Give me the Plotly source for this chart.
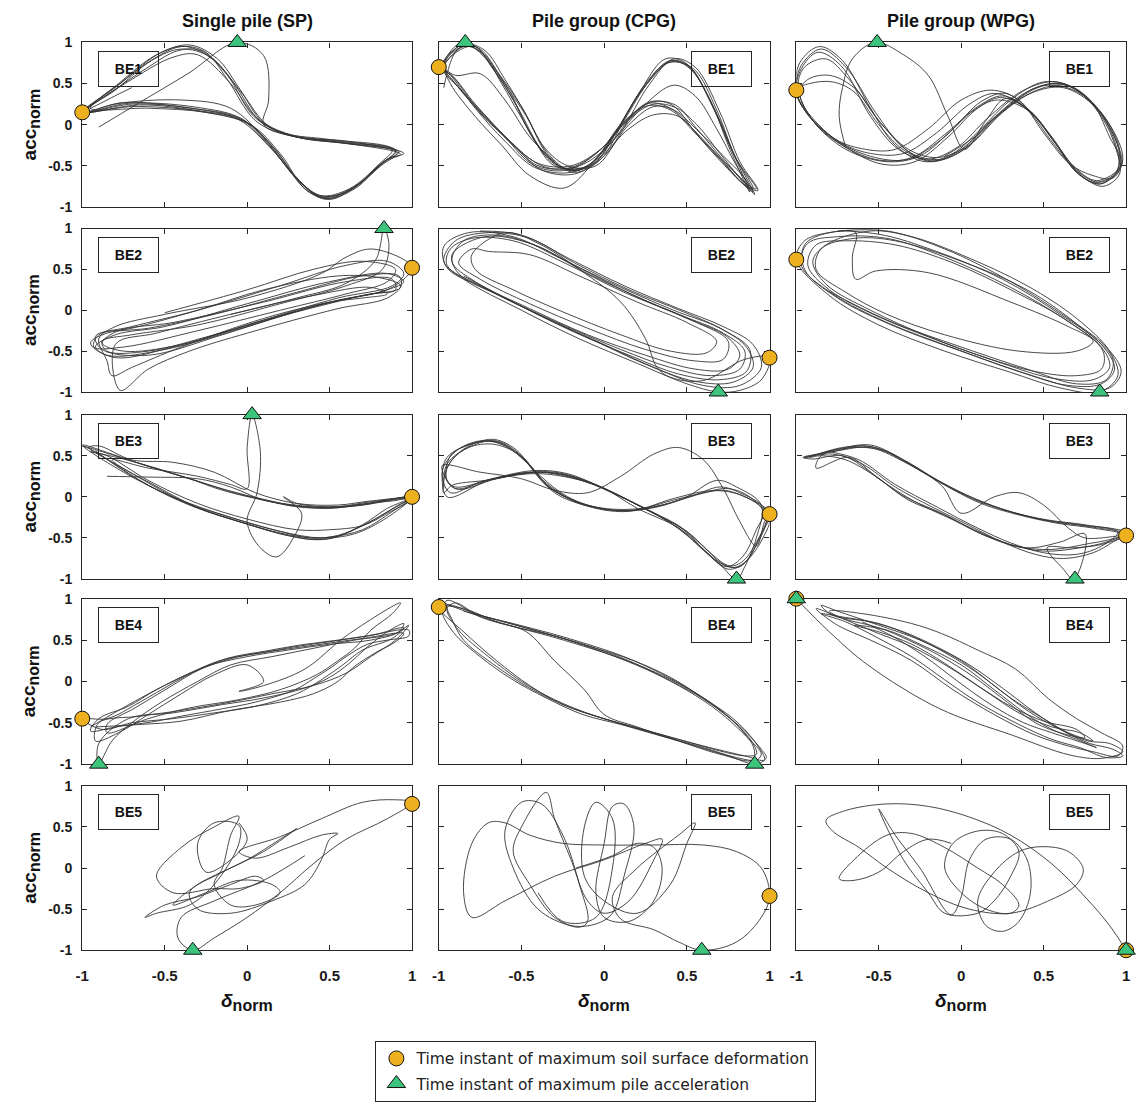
import plotly.graph_objects as go

# Normalised pile-head response: x = delta_norm, y = acc_norm
# Each list is one continuous trajectory of (delta_norm, acc_norm) pairs.

SP_BE1 = [(-0.9, -0.03), (-0.66, 0.26), (-0.36, 0.62), (-0.06, 1.0), (0.1, 0.84), (0.13, 0.3), (0.1, 0.0), (0.3, -0.15), (0.6, -0.23), (0.92, -0.33),
          (0.82, -0.46), (0.65, -0.76), (0.47, -0.9), (0.33, -0.72), (0.15, -0.3), (-0.05, 0.06), (-0.3, 0.19), (-0.7, 0.25), (-1.0, 0.15),
          (-0.8, 0.45), (-0.6, 0.76), (-0.4, 0.95), (-0.25, 0.88), (-0.12, 0.55), (0.05, 0.05), (0.25, -0.13), (0.55, -0.21), (0.9, -0.32),
          (0.8, -0.5), (0.62, -0.8), (0.45, -0.88), (0.3, -0.65), (0.13, -0.25), (-0.05, 0.08), (-0.35, 0.2), (-0.75, 0.27), (-0.97, 0.17),
          (-0.78, 0.5), (-0.55, 0.85), (-0.35, 0.97), (-0.18, 0.8), (-0.05, 0.45), (0.1, 0.02), (0.3, -0.15), (0.6, -0.2), (0.95, -0.35),
          (0.85, -0.42), (0.68, -0.72), (0.5, -0.91), (0.35, -0.78), (0.17, -0.3), (-0.02, 0.05), (-0.3, 0.17), (-0.7, 0.22), (-0.98, 0.16),
          (-0.82, 0.4), (-0.6, 0.7), (-0.42, 0.9), (-0.28, 0.9), (-0.12, 0.6), (0.04, 0.1), (0.22, -0.1), (0.5, -0.18), (0.88, -0.3),
          (0.8, -0.48), (0.62, -0.78), (0.44, -0.86), (0.28, -0.6), (0.12, -0.2), (-0.1, 0.2), (-0.4, 0.3), (-0.8, 0.25), (-1.0, 0.14),
          (-0.76, 0.52), (-0.52, 0.88), (-0.37, 0.95), (-0.2, 0.78), (-0.03, 0.38), (0.12, 0.0), (0.32, -0.16), (0.65, -0.24), (0.93, -0.36),
          (0.83, -0.45), (0.66, -0.77), (0.48, -0.9), (0.34, -0.74), (0.16, -0.28), (0.0, 0.02), (-0.25, 0.15), (-0.6, 0.2), (-0.95, 0.2),
          (-0.8, 0.42), (-0.58, 0.78), (-0.4, 0.92), (-0.22, 0.82), (-0.08, 0.5), (0.08, 0.04), (0.28, -0.14), (0.58, -0.22), (0.91, -0.34),
          (0.81, -0.5), (0.63, -0.79), (0.46, -0.87), (0.31, -0.68), (0.14, -0.26), (-0.03, 0.07), (-0.3, 0.21), (-0.72, 0.26), (-0.99, 0.15),
          (-0.7, 0.55), (-0.45, 0.82), (-0.3, 0.85), (-0.1, 0.5), (0.06, 0.08), (0.26, -0.12), (0.55, -0.2), (0.9, -0.31),
          (0.84, -0.44), (0.66, -0.74), (0.49, -0.88), (0.36, -0.8), (0.2, -0.35), (0.02, 0.0), (-0.28, 0.16), (-0.65, 0.24), (-0.98, 0.15),
          (-0.85, 0.3), (-0.7, 0.45)]

CPG_BE1 = [(-0.97, 0.45), (-0.95, 0.62), (-0.9, 0.88),
           (-0.83, 0.98), (-0.72, 0.9), (-0.6, 0.55), (-0.48, 0.15), (-0.34, -0.35), (-0.2, -0.56), (-0.05, -0.45), (0.1, 0.0), (0.25, 0.5), (0.4, 0.78), (0.52, 0.7), (0.66, 0.2), (0.78, -0.35), (0.9, -0.78),
           (0.84, -0.72), (0.72, -0.45), (0.55, -0.08), (0.4, 0.2), (0.27, 0.26), (0.12, 0.02), (-0.02, -0.3), (-0.2, -0.52), (-0.4, -0.5), (-0.58, -0.18), (-0.75, 0.18), (-0.9, 0.5), (-0.97, 0.7),
           (-0.88, 0.95), (-0.78, 0.95), (-0.65, 0.62), (-0.52, 0.2), (-0.38, -0.3), (-0.25, -0.52), (-0.1, -0.5), (0.05, -0.15), (0.22, 0.4), (0.38, 0.75), (0.5, 0.72), (0.64, 0.3), (0.76, -0.3), (0.88, -0.82),
           (0.86, -0.68), (0.74, -0.42), (0.58, -0.1), (0.42, 0.18), (0.3, 0.22), (0.15, 0.0), (0.0, -0.38), (-0.18, -0.6), (-0.38, -0.55), (-0.56, -0.22), (-0.74, 0.12), (-0.9, 0.55), (-0.98, 0.72),
           (-0.86, 0.97), (-0.75, 0.92), (-0.63, 0.6), (-0.5, 0.22), (-0.36, -0.28), (-0.22, -0.5), (-0.05, -0.5), (0.1, -0.1), (0.27, 0.48), (0.42, 0.8), (0.55, 0.7), (0.7, 0.15), (0.82, -0.45), (0.93, -0.8),
           (0.86, -0.75), (0.73, -0.5), (0.56, -0.12), (0.41, 0.24), (0.28, 0.28), (0.13, 0.05), (-0.03, -0.32), (-0.22, -0.55), (-0.42, -0.5), (-0.6, -0.15), (-0.78, 0.25), (-0.92, 0.6), (-0.98, 0.68),
           (-0.88, 0.9), (-0.78, 0.95), (-0.68, 0.7), (-0.55, 0.3), (-0.42, -0.2), (-0.3, -0.5), (-0.12, -0.52), (0.05, -0.2), (0.25, 0.25), (0.42, 0.48), (0.55, 0.35), (0.68, -0.05), (0.8, -0.5), (0.9, -0.82),
           (0.83, -0.7), (0.7, -0.42), (0.55, -0.1), (0.4, 0.18), (0.26, 0.23), (0.1, 0.0), (-0.05, -0.42), (-0.24, -0.77), (-0.45, -0.62), (-0.62, -0.25), (-0.78, 0.1), (-0.93, 0.5), (-0.97, 0.75),
           (-0.85, 0.95), (-0.74, 0.88), (-0.61, 0.52), (-0.47, 0.1), (-0.33, -0.4), (-0.18, -0.58), (-0.02, -0.42), (0.12, 0.05), (0.28, 0.55), (0.41, 0.78), (0.53, 0.66), (0.67, 0.18), (0.79, -0.38), (0.91, -0.85),
           (0.85, -0.7), (0.73, -0.45), (0.56, -0.05), (0.43, 0.24), (0.28, 0.27), (0.14, 0.05), (-0.01, -0.28), (-0.2, -0.5), (-0.4, -0.47), (-0.57, -0.2), (-0.75, 0.15), (-0.9, 0.5), (-0.97, 0.72),
           (-0.88, 0.98), (-0.8, 0.95), (-0.68, 0.72), (-0.57, 0.4), (-0.45, -0.1), (-0.3, -0.48), (-0.15, -0.55), (0.0, -0.3), (0.2, 0.35), (0.37, 0.8), (0.5, 0.74), (0.65, 0.25), (0.77, -0.3), (0.87, -0.78),
           (0.82, -0.65), (0.7, -0.35), (0.56, 0.0), (0.44, 0.2), (0.3, 0.25), (0.16, 0.08), (0.03, -0.25), (-0.15, -0.5), (-0.35, -0.52), (-0.55, -0.25), (-0.72, 0.1), (-0.88, 0.45), (-0.97, 0.68),
           (-0.84, 0.96), (-0.73, 0.85), (-0.62, 0.5), (-0.49, 0.05), (-0.35, -0.38), (-0.21, -0.55), (-0.06, -0.47), (0.08, -0.05), (0.26, 0.5), (0.4, 0.76), (0.54, 0.68), (0.68, 0.18), (0.8, -0.42), (0.92, -0.78),
           (0.86, -0.72), (0.75, -0.5), (0.6, -0.2), (0.45, 0.1), (0.3, 0.12), (0.15, -0.05), (-0.03, -0.4), (-0.2, -0.58), (-0.42, -0.52), (-0.6, -0.2), (-0.78, 0.2), (-0.92, 0.58), (-0.98, 0.7),
           (-0.9, 0.6), (-0.75, 0.62), (-0.6, 0.3), (-0.45, -0.15), (-0.3, -0.45)]

WPG_BE1 = [(-0.7, -0.28), (-0.74, 0.1), (-0.72, 0.45), (-0.66, 0.8), (-0.52, 1.0), (-0.35, 0.85), (-0.2, 0.6), (-0.08, 0.1), (0.02, -0.3), (0.15, 0.05), (0.27, 0.32),
           (0.42, 0.15), (0.57, -0.22), (0.7, -0.58), (0.84, -0.72), (0.95, -0.55), (0.93, -0.2), (0.8, 0.25), (0.6, 0.5), (0.4, 0.4), (0.18, 0.05), (0.0, -0.3), (-0.18, -0.45), (-0.35, -0.28), (-0.52, 0.15), (-0.7, 0.7), (-0.85, 0.92), (-0.97, 0.72), (-1.0, 0.42), (-0.93, 0.12), (-0.72, -0.25), (-0.5, -0.43), (-0.3, -0.4), (-0.1, -0.12), (0.1, 0.22), (0.25, 0.35),
           (0.4, 0.2), (0.55, -0.15), (0.68, -0.5), (0.82, -0.68), (0.97, -0.5), (0.95, -0.25), (0.82, 0.2), (0.62, 0.45), (0.42, 0.38), (0.2, 0.08), (0.02, -0.28), (-0.15, -0.4), (-0.32, -0.3), (-0.5, 0.05), (-0.68, 0.55), (-0.82, 0.8), (-0.95, 0.7), (-0.99, 0.45), (-0.9, 0.05), (-0.7, -0.3), (-0.45, -0.45), (-0.25, -0.38), (-0.05, -0.05), (0.12, 0.28), (0.27, 0.38),
           (0.44, 0.12), (0.6, -0.3), (0.73, -0.62), (0.86, -0.75), (0.96, -0.6), (0.94, -0.3), (0.85, 0.1), (0.68, 0.45), (0.5, 0.52), (0.3, 0.3), (0.12, -0.05), (-0.05, -0.35), (-0.22, -0.45), (-0.4, -0.25), (-0.55, 0.2), (-0.72, 0.78), (-0.86, 0.95), (-0.98, 0.75), (-1.0, 0.4), (-0.95, 0.2), (-0.75, -0.2), (-0.52, -0.4), (-0.32, -0.42), (-0.12, -0.18), (0.08, 0.18), (0.22, 0.3),
           (0.4, 0.18), (0.56, -0.2), (0.69, -0.55), (0.8, -0.7), (0.93, -0.6), (0.96, -0.35), (0.84, 0.15), (0.64, 0.48), (0.45, 0.45), (0.25, 0.15), (0.05, -0.25), (-0.12, -0.42), (-0.3, -0.35), (-0.48, 0.0), (-0.65, 0.45), (-0.8, 0.6), (-0.93, 0.55), (-0.98, 0.4), (-0.88, 0.0), (-0.68, -0.3), (-0.48, -0.48), (-0.28, -0.45), (-0.08, -0.15), (0.1, 0.2), (0.24, 0.33),
           (0.42, 0.16), (0.58, -0.25), (0.71, -0.6), (0.85, -0.72), (0.97, -0.48), (0.9, -0.15), (0.78, 0.3), (0.58, 0.52), (0.38, 0.42), (0.16, 0.08), (-0.02, -0.27), (-0.2, -0.42), (-0.38, -0.3), (-0.55, 0.1), (-0.73, 0.72), (-0.87, 0.88), (-0.97, 0.68), (-1.0, 0.4),
           (-0.92, 0.1), (-0.73, -0.22), (-0.55, -0.35), (-0.35, -0.35), (-0.15, -0.1), (0.05, 0.25), (0.2, 0.38), (0.38, 0.22), (0.54, -0.18), (0.68, -0.52), (0.83, -0.7), (0.95, -0.58), (0.96, -0.3), (0.86, 0.12), (0.66, 0.47), (0.46, 0.42), (0.22, 0.1), (0.02, -0.3), (-0.16, -0.44), (-0.34, -0.32), (-0.5, 0.0), (-0.65, 0.4), (-0.78, 0.52), (-0.92, 0.5), (-1.0, 0.42),
           (-0.94, 0.15), (-0.76, -0.18), (-0.58, -0.3), (-0.4, -0.3), (-0.2, -0.05), (0.0, 0.3), (0.18, 0.42), (0.35, 0.3), (0.5, -0.1), (0.66, -0.48), (0.8, -0.62), (0.92, -0.65), (0.98, -0.42), (0.9, 0.0), (0.72, 0.38), (0.52, 0.48), (0.3, 0.25), (0.08, -0.15), (-0.1, -0.38)]

SP_BE2 = [(-0.1, -0.05), (0.3, 0.15), (0.6, 0.33), (0.78, 0.62), (0.83, 1.0), (0.86, 0.8), (0.82, 0.5), (0.6, 0.3), (0.2, 0.08), (-0.3, -0.18), (-0.7, -0.3), (-0.88, -0.38), (-0.85, -0.5), (-0.6, -0.5), (-0.2, -0.3), (0.3, -0.02), (0.7, 0.18), (0.93, 0.28), (0.92, 0.42), (0.7, 0.42), (0.3, 0.22), (-0.2, -0.05), (-0.6, -0.22), (-0.85, -0.28), (-0.95, -0.4), (-0.85, -0.55), (-0.5, -0.48), (0.0, -0.2), (0.5, 0.1), (0.8, 0.22), (0.95, 0.35), (0.85, 0.45), (0.5, 0.35), (0.0, 0.08), (-0.5, -0.2), (-0.8, -0.3), (-0.92, -0.45), (-0.8, -0.58), (-0.45, -0.45), (0.05, -0.15), (0.55, 0.15), (0.88, 0.3), (0.95, 0.45), (0.85, 0.6), (0.6, 0.55), (0.2, 0.3), (-0.3, 0.0), (-0.7, -0.2), (-0.92, -0.32), (-0.88, -0.48), (-0.6, -0.55), (-0.15, -0.3), (0.35, 0.02), (0.75, 0.2), (0.9, 0.25), (0.88, 0.38), (0.6, 0.35), (0.1, 0.1), (-0.45, -0.15), (-0.78, -0.25), (-0.88, -0.4), (-0.75, -0.5), (-0.4, -0.42), (0.1, -0.12), (0.55, 0.12), (0.88, 0.28), (1.0, 0.52), (0.95, 0.62), (0.75, 0.75), (0.6, 0.65), (0.45, 0.45), (0.0, 0.15), (-0.5, -0.05), (-0.8, -0.2), (-0.9, -0.35), (-0.85, -0.62), (-0.82, -0.8), (-0.7, -0.7), (-0.4, -0.45), (0.1, -0.1), (0.5, 0.1), (0.7, 0.15), (0.85, 0.2), (0.75, 0.28), (0.4, 0.18), (-0.1, -0.05), (-0.55, -0.28), (-0.8, -0.42), (-0.77, -0.98), (-0.6, -0.72), (-0.35, -0.5), (0.0, -0.28), (0.55, 0.02), (0.85, 0.15), (0.93, 0.3), (0.8, 0.4), (0.55, 0.42), (0.1, 0.25), (-0.3, 0.0), (-0.7, -0.22), (-0.9, -0.3), (-0.93, -0.45), (-0.75, -0.45), (-0.3, -0.25), (0.2, 0.0), (0.6, 0.2), (0.85, 0.35), (0.9, 0.5), (0.7, 0.6), (0.4, 0.5), (0.0, 0.25), (-0.5, -0.03)]

CPG_BE2 = [(-0.75, 0.97), (-0.5, 0.92), (-0.2, 0.62), (0.12, 0.3), (0.45, 0.02), (0.72, -0.2), (0.9, -0.42), (0.95, -0.7), (0.82, -0.92), (0.6, -0.92), (0.3, -0.7), (0.0, -0.42), (-0.35, -0.1), (-0.7, 0.25), (-0.95, 0.52), (-0.97, 0.78),
           (-0.82, 0.95), (-0.55, 0.9), (-0.25, 0.62), (0.1, 0.28), (0.42, 0.0), (0.7, -0.22), (0.86, -0.45), (0.9, -0.7), (0.78, -0.88), (0.55, -0.87), (0.25, -0.66), (-0.05, -0.38), (-0.4, -0.05), (-0.75, 0.3), (-0.95, 0.55), (-0.93, 0.75),
           (-0.8, 0.88), (-0.55, 0.85), (-0.22, 0.56), (0.12, 0.22), (0.45, -0.05), (0.72, -0.28), (0.85, -0.5), (0.82, -0.72), (0.65, -0.8), (0.4, -0.7), (0.1, -0.48), (-0.25, -0.18), (-0.6, 0.15), (-0.88, 0.45), (-0.92, 0.68),
           (-0.72, 0.9), (-0.45, 0.82), (-0.15, 0.52), (0.18, 0.18), (0.5, -0.1), (0.74, -0.32), (0.82, -0.55), (0.75, -0.72), (0.55, -0.72), (0.25, -0.55), (-0.1, -0.3), (-0.45, 0.02), (-0.78, 0.35), (-0.92, 0.6), (-0.85, 0.85),
           (-0.65, 0.92), (-0.4, 0.78), (-0.1, 0.45), (0.25, 0.12), (0.55, -0.14), (0.75, -0.38), (0.72, -0.6), (0.55, -0.62), (0.25, -0.48), (-0.1, -0.22), (-0.45, 0.08), (-0.75, 0.38), (-0.88, 0.58), (-0.8, 0.75),
           (-0.7, 0.72), (-0.45, 0.68), (-0.15, 0.42), (0.2, 0.1), (0.5, -0.15), (0.68, -0.38), (0.62, -0.52), (0.4, -0.5), (0.1, -0.3), (-0.25, -0.02), (-0.55, 0.25), (-0.78, 0.5), (-0.8, 0.68),
           (-0.6, 0.95), (-0.4, 0.82), (-0.15, 0.5), (0.1, 0.1), (0.25, -0.35), (0.32, -0.7), (0.4, -0.82), (0.6, -0.86), (0.85, -0.6), (1.0, -0.58), (0.95, -0.85), (0.82, -0.98), (0.69, -1.0), (0.5, -0.9), (0.2, -0.65), (-0.15, -0.35), (-0.5, 0.0), (-0.85, 0.38), (-0.97, 0.6), (-0.9, 0.85), (-0.7, 0.95),
           (-0.45, 0.88), (-0.18, 0.58), (0.15, 0.25), (0.48, -0.02), (0.73, -0.25), (0.88, -0.48), (0.86, -0.75), (0.7, -0.85), (0.45, -0.78), (0.15, -0.55), (-0.2, -0.25), (-0.55, 0.1), (-0.85, 0.42)]

WPG_BE2 = [(-0.75, 0.97), (-0.45, 0.97), (-0.1, 0.75), (0.3, 0.35), (0.65, -0.1), (0.88, -0.45), (0.97, -0.75), (0.9, -0.95), (0.7, -0.95), (0.4, -0.78), (0.0, -0.5), (-0.4, -0.2), (-0.75, 0.15), (-0.95, 0.5), (-0.95, 0.8),
           (-0.8, 0.95), (-0.5, 0.93), (-0.15, 0.72), (0.25, 0.38), (0.6, -0.05), (0.85, -0.42), (0.93, -0.72), (0.85, -0.9), (0.65, -0.92), (0.35, -0.75), (-0.05, -0.46), (-0.45, -0.15), (-0.78, 0.2), (-0.97, 0.55), (-0.93, 0.82),
           (-0.75, 0.9), (-0.45, 0.88), (-0.1, 0.65), (0.3, 0.28), (0.62, -0.1), (0.85, -0.45), (0.9, -0.7), (0.8, -0.85), (0.55, -0.83), (0.25, -0.65), (-0.1, -0.4), (-0.5, -0.08), (-0.8, 0.25), (-0.93, 0.55), (-0.88, 0.8),
           (-0.7, 0.85), (-0.4, 0.8), (-0.05, 0.58), (0.35, 0.2), (0.66, -0.15), (0.86, -0.5), (0.85, -0.72), (0.7, -0.8), (0.45, -0.75), (0.15, -0.58), (-0.2, -0.32), (-0.55, 0.0), (-0.82, 0.32), (-0.9, 0.6), (-0.82, 0.8),
           (-0.55, 0.97), (-0.3, 0.9), (0.0, 0.68), (0.4, 0.3), (0.7, -0.1), (0.9, -0.5), (0.95, -0.8), (0.84, -1.0), (0.6, -0.95), (0.3, -0.76), (-0.1, -0.5), (-0.5, -0.18), (-0.8, 0.18), (-1.0, 0.62), (-0.95, 0.85), (-0.8, 0.95),
           (-0.64, 0.95), (-0.66, 0.65), (-0.64, 0.38), (-0.52, 0.48), (-0.2, 0.46), (0.3, 0.1), (0.65, -0.2), (0.8, -0.38), (0.7, -0.5), (0.35, -0.5), (-0.1, -0.3), (-0.45, -0.05), (-0.7, 0.22), (-0.88, 0.5), (-0.85, 0.75), (-0.65, 0.88),
           (-0.4, 0.85), (0.0, 0.6), (0.4, 0.25), (0.72, -0.2), (0.92, -0.6), (0.88, -0.85), (0.7, -0.9), (0.4, -0.72), (0.0, -0.45), (-0.45, -0.12), (-0.82, 0.25)]

SP_BE3 = [(-0.85, 0.25), (-0.6, 0.24), (-0.3, 0.22), (-0.1, 0.12),
          (0.1, -0.04), (0.29, -0.1), (0.5, -0.13), (0.7, -0.1), (0.85, -0.04), (1.0, 0.0), (0.9, -0.12), (0.73, -0.32), (0.55, -0.48), (0.42, -0.52), (0.25, -0.47), (0.0, -0.33), (-0.3, -0.13), (-0.58, 0.16), (-0.8, 0.4), (-0.95, 0.58),
          (-1.0, 0.62), (-0.8, 0.5), (-0.58, 0.36), (-0.35, 0.22), (-0.15, 0.08), (0.12, -0.05), (0.3, -0.12), (0.52, -0.14), (0.72, -0.08), (0.88, -0.05), (0.99, -0.02), (0.88, -0.15), (0.72, -0.33), (0.55, -0.47), (0.4, -0.5), (0.2, -0.44), (-0.05, -0.3), (-0.35, -0.1), (-0.6, 0.14), (-0.82, 0.42), (-0.96, 0.6),
          (-0.9, 0.62), (-0.7, 0.45), (-0.45, 0.42), (-0.2, 0.3), (0.05, 0.05), (0.3, -0.08), (0.55, -0.1), (0.75, -0.05), (1.0, -0.02), (0.85, -0.2), (0.7, -0.35), (0.5, -0.4), (0.3, -0.4), (0.0, -0.27), (-0.3, -0.08), (-0.6, 0.2), (-0.85, 0.5),
          (-0.95, 0.55), (-0.75, 0.46), (-0.52, 0.33), (-0.3, 0.19), (-0.08, 0.05), (0.15, -0.06), (0.32, -0.12), (0.55, -0.12), (0.75, -0.06), (0.98, -0.02), (0.85, -0.14), (0.7, -0.34), (0.52, -0.5), (0.4, -0.52), (0.22, -0.46), (-0.02, -0.32), (-0.32, -0.12), (-0.6, 0.17), (-0.82, 0.45),
          (-0.6, 0.35), (-0.3, 0.25), (-0.1, 0.15), (0.0, 0.1), (0.0, 0.6), (0.03, 1.0), (0.08, 0.55), (0.06, 0.05), (0.0, -0.3), (0.08, -0.62), (0.18, -0.73), (0.28, -0.5), (0.33, -0.2), (0.22, 0.0), (0.3, -0.08),
          (0.5, -0.12), (0.7, -0.09), (0.87, -0.03), (1.0, 0.0), (0.85, -0.25), (0.65, -0.45), (0.45, -0.5), (0.2, -0.42), (-0.1, -0.25), (-0.45, 0.0), (-0.75, 0.3), (-1.0, 0.63),
          (-0.82, 0.52), (-0.6, 0.37), (-0.38, 0.24), (-0.12, 0.08), (0.1, -0.03), (0.3, -0.11), (0.5, -0.13), (0.7, -0.1), (0.88, -0.04), (1.0, -0.01), (0.88, -0.18), (0.7, -0.4), (0.5, -0.49), (0.38, -0.5), (0.2, -0.42), (-0.05, -0.28), (-0.4, -0.05), (-0.72, 0.28), (-0.92, 0.56)]

CPG_BE3 = [(-0.97, 0.1), (-0.95, 0.4), (-0.8, 0.62), (-0.65, 0.68), (-0.5, 0.5), (-0.35, 0.15), (-0.15, -0.08), (0.1, -0.18), (0.35, -0.1), (0.55, 0.02), (0.72, 0.08), (0.85, 0.0), (1.0, -0.2),
           (0.95, -0.45), (0.85, -0.8), (0.75, -0.88), (0.63, -0.7), (0.48, -0.4), (0.25, -0.15), (0.0, 0.1), (-0.25, 0.27), (-0.45, 0.3), (-0.7, 0.2), (-0.9, 0.12),
           (-0.95, 0.2), (-0.93, 0.5), (-0.78, 0.66), (-0.63, 0.66), (-0.48, 0.45), (-0.32, 0.1), (-0.1, -0.1), (0.15, -0.17), (0.4, -0.05), (0.6, 0.05), (0.75, 0.1), (0.88, 0.0), (0.98, -0.25), (0.93, -0.55), (0.82, -0.85), (0.72, -0.82), (0.6, -0.6), (0.45, -0.35), (0.22, -0.12), (-0.05, 0.15), (-0.3, 0.3), (-0.5, 0.28), (-0.75, 0.18), (-0.93, 0.05),
           (-0.98, 0.3), (-0.9, 0.55), (-0.75, 0.68), (-0.6, 0.62), (-0.45, 0.38), (-0.3, 0.05), (-0.08, -0.12), (0.18, -0.16), (0.42, -0.02), (0.62, 0.07), (0.76, 0.06), (0.9, -0.05), (1.0, -0.25), (0.96, -0.5), (0.86, -0.78), (0.78, -0.86), (0.66, -0.75), (0.5, -0.45), (0.28, -0.18), (0.02, 0.08), (-0.22, 0.28), (-0.42, 0.32), (-0.68, 0.22), (-0.9, 0.1),
           (-0.96, 0.25), (-0.92, 0.45), (-0.82, 0.6), (-0.67, 0.64), (-0.52, 0.52), (-0.37, 0.2), (-0.18, -0.05), (0.05, -0.15), (0.3, -0.12), (0.52, 0.0), (0.7, 0.12), (0.82, 0.05), (0.97, -0.15), (0.92, -0.4), (0.84, -0.72), (0.74, -0.85), (0.6, -0.65), (0.45, -0.38), (0.2, -0.14), (-0.02, 0.12), (-0.28, 0.26), (-0.46, 0.28), (-0.72, 0.2), (-0.92, 0.14),
           (-0.97, 0.05), (-0.95, 0.35), (-0.85, 0.58), (-0.68, 0.7), (-0.55, 0.6), (-0.4, 0.28), (-0.22, 0.0), (0.0, -0.15), (0.25, -0.15), (0.48, -0.02), (0.68, 0.2), (0.8, 0.12), (0.95, -0.1), (0.92, -0.5), (0.85, -0.85), (0.8, -1.0), (0.7, -0.82), (0.55, -0.55), (0.35, -0.25), (0.1, 0.0), (-0.2, 0.25), (-0.4, 0.3), (-0.65, 0.22), (-0.9, 0.1),
           (-0.98, 0.38), (-0.75, 0.3), (-0.5, 0.22), (-0.3, 0.08), (-0.1, 0.05), (0.1, 0.25), (0.3, 0.52), (0.45, 0.6), (0.6, 0.45), (0.72, 0.1), (0.82, -0.3), (0.92, -0.6), (0.97, -0.3), (1.0, -0.2),
           (0.94, -0.48), (0.84, -0.78), (0.76, -0.84), (0.64, -0.68), (0.5, -0.42), (0.26, -0.16), (0.0, 0.1), (-0.25, 0.26), (-0.44, 0.3), (-0.7, 0.2), (-0.95, 0.0), (-0.96, 0.45), (-0.82, 0.63), (-0.66, 0.67), (-0.5, 0.48), (-0.34, 0.12), (-0.12, -0.1)]

WPG_BE3 = [(-0.95, 0.47), (-0.75, 0.58), (-0.55, 0.63), (-0.35, 0.45), (-0.11, 0.16), (0.1, -0.05), (0.33, -0.2), (0.55, -0.3), (0.77, -0.36), (1.0, -0.45),
           (0.9, -0.52), (0.77, -0.57), (0.55, -0.64), (0.33, -0.6), (0.11, -0.44), (-0.1, -0.22), (-0.32, -0.04), (-0.52, 0.25), (-0.7, 0.45), (-0.85, 0.5),
           (-0.92, 0.48), (-0.72, 0.6), (-0.52, 0.6), (-0.32, 0.4), (-0.08, 0.12), (0.12, -0.08), (0.35, -0.22), (0.58, -0.32), (0.8, -0.38), (0.98, -0.46),
           (0.88, -0.55), (0.72, -0.62), (0.5, -0.66), (0.3, -0.58), (0.08, -0.4), (-0.14, -0.18), (-0.36, 0.02), (-0.55, 0.3), (-0.72, 0.5), (-0.9, 0.46),
           (-0.96, 0.48), (-0.78, 0.55), (-0.58, 0.62), (-0.38, 0.48), (-0.14, 0.2), (0.08, -0.02), (0.3, -0.18), (0.52, -0.28), (0.75, -0.34), (1.0, -0.44),
           (0.92, -0.55), (0.8, -0.68), (0.62, -0.75), (0.45, -0.7), (0.25, -0.55), (0.05, -0.35), (-0.18, -0.12), (-0.4, 0.12), (-0.6, 0.4), (-0.78, 0.52), (-0.95, 0.48),
           (-0.75, 0.56), (-0.56, 0.6), (-0.36, 0.44), (-0.12, 0.14), (0.0, -0.2), (0.2, 0.0), (0.35, 0.05), (0.5, -0.1), (0.65, -0.38), (0.75, -0.5), (1.0, -0.47),
           (0.85, -0.58), (0.68, -0.62), (0.52, -0.62), (0.62, -0.88), (0.68, -1.0), (0.74, -0.75), (0.75, -0.45), (0.6, -0.55), (0.4, -0.62), (0.18, -0.5), (-0.05, -0.28), (-0.28, -0.06), (-0.5, 0.22), (-0.68, 0.48), (-0.88, 0.35), (-0.85, 0.5),
           (-0.65, 0.6), (-0.45, 0.55), (-0.25, 0.32), (0.0, 0.05), (0.25, -0.15), (0.5, -0.28), (0.72, -0.34), (0.95, -0.43), (0.85, -0.6), (0.7, -0.7), (0.5, -0.68), (0.3, -0.56), (0.1, -0.38), (-0.15, -0.12), (-0.4, 0.15), (-0.62, 0.45), (-0.8, 0.55)]

SP_BE4 = [(-0.95, -0.55), (-0.78, -0.35), (-0.58, -0.13), (-0.35, 0.1), (-0.15, 0.26), (0.1, 0.35), (0.29, 0.42), (0.5, 0.48), (0.73, 0.55), (0.98, 0.62),
          (0.98, 0.55), (0.85, 0.5), (0.73, 0.45), (0.6, 0.3), (0.51, 0.17), (0.4, 0.03), (0.29, -0.1), (0.05, -0.25), (-0.15, -0.33), (-0.4, -0.42), (-0.58, -0.49), (-0.8, -0.55), (-0.95, -0.6),
          (-0.9, -0.45), (-0.72, -0.3), (-0.55, -0.1), (-0.32, 0.12), (-0.12, 0.28), (0.12, 0.37), (0.32, 0.44), (0.55, 0.5), (0.78, 0.57), (0.95, 0.65), (0.88, 0.52), (0.7, 0.38), (0.58, 0.2), (0.45, 0.02), (0.3, -0.15), (0.05, -0.3), (-0.2, -0.38), (-0.45, -0.45), (-0.7, -0.5), (-0.88, -0.58),
          (-1.0, -0.45), (-0.85, -0.45), (-0.65, -0.25), (-0.45, -0.02), (-0.25, 0.18), (0.0, 0.3), (0.25, 0.38), (0.5, 0.45), (0.75, 0.5), (0.92, 0.6), (0.95, 0.7), (0.85, 0.6), (0.72, 0.4), (0.62, 0.22), (0.5, 0.05), (0.35, -0.08), (0.1, -0.2), (-0.15, -0.28), (-0.45, -0.38), (-0.72, -0.45), (-0.9, -0.75), (-0.9, -1.0), (-0.82, -0.72), (-0.7, -0.5),
          (-0.52, -0.25), (-0.3, 0.0), (-0.1, 0.2), (0.15, 0.3), (0.4, 0.4), (0.65, 0.5), (0.9, 0.58), (0.98, 0.68), (0.9, 0.5), (0.75, 0.3), (0.6, 0.1), (0.4, -0.05), (0.15, -0.15), (-0.1, -0.25), (-0.4, -0.35), (-0.65, -0.42), (-0.9, -0.5), (-0.92, -0.72), (-0.78, -0.62), (-0.6, -0.4),
          (-0.4, -0.15), (-0.2, 0.08), (0.0, 0.2), (0.1, 0.0), (-0.05, -0.12), (0.1, -0.05), (0.35, 0.15), (0.6, 0.55), (0.93, 0.95), (0.88, 0.82), (0.75, 0.62), (0.65, 0.4), (0.55, 0.25), (0.42, 0.08), (0.2, -0.1), (-0.05, -0.22), (-0.35, -0.32), (-0.6, -0.45), (-0.85, -0.62),
          (-0.85, -0.52), (-0.68, -0.32), (-0.48, -0.08), (-0.28, 0.15), (-0.05, 0.3), (0.2, 0.38), (0.45, 0.45), (0.7, 0.52), (0.95, 0.58), (0.9, 0.48), (0.78, 0.35), (0.65, 0.18), (0.55, 0.0), (0.4, -0.15), (0.2, -0.25), (-0.1, -0.35), (-0.4, -0.48), (-0.65, -0.52), (-0.92, -0.55)]

CPG_BE4 = [(-0.97, 0.95), (-0.8, 0.82), (-0.56, 0.67), (-0.35, 0.56), (-0.13, 0.43), (0.1, 0.28), (0.31, 0.11), (0.5, -0.08), (0.66, -0.28), (0.78, -0.48), (0.87, -0.68), (0.95, -0.88),
           (0.92, -0.95), (0.8, -0.92), (0.6, -0.8), (0.31, -0.64), (0.1, -0.52), (-0.13, -0.4), (-0.35, -0.2), (-0.56, 0.03), (-0.75, 0.3), (-0.91, 0.59), (-0.98, 0.85),
           (-0.95, 0.98), (-0.78, 0.82), (-0.55, 0.7), (-0.32, 0.58), (-0.1, 0.45), (0.12, 0.3), (0.34, 0.1), (0.52, -0.1), (0.68, -0.32), (0.8, -0.52), (0.9, -0.75), (0.92, -0.88),
           (0.85, -0.9), (0.7, -0.84), (0.45, -0.7), (0.2, -0.56), (-0.05, -0.42), (-0.3, -0.22), (-0.5, 0.0), (-0.7, 0.3), (-0.88, 0.62), (-0.95, 0.88),
           (-0.9, 0.95), (-0.75, 0.78), (-0.52, 0.65), (-0.3, 0.55), (-0.08, 0.42), (0.15, 0.25), (0.36, 0.05), (0.55, -0.15), (0.72, -0.38), (0.85, -0.6), (0.95, -0.82), (0.98, -0.92),
           (0.92, -1.0), (0.75, -0.9), (0.5, -0.75), (0.25, -0.6), (0.0, -0.45), (-0.25, -0.28), (-0.45, -0.05), (-0.65, 0.25), (-0.85, 0.6), (-1.0, 0.9),
           (-0.85, 0.88), (-0.65, 0.72), (-0.47, 0.6), (-0.3, 0.25), (-0.12, -0.1), (0.0, -0.4), (0.2, -0.55), (0.45, -0.72), (0.7, -0.88), (0.9, -0.95),
           (0.9, -0.78), (0.8, -0.55), (0.65, -0.3), (0.45, -0.05), (0.25, 0.15), (0.0, 0.35), (-0.25, 0.52), (-0.5, 0.66), (-0.75, 0.8), (-0.95, 0.92),
           (-0.92, 0.75), (-0.85, 0.5), (-0.65, 0.18), (-0.45, -0.08), (-0.2, -0.32), (0.05, -0.48), (0.3, -0.62), (0.6, -0.78), (0.85, -0.9), (0.97, -0.95),
           (0.9, -0.7), (0.78, -0.45), (0.6, -0.2), (0.4, 0.05), (0.18, 0.25), (-0.08, 0.42), (-0.35, 0.58), (-0.6, 0.72), (-0.85, 0.85)]

WPG_BE4 = [(-1.0, 1.0), (-0.8, 0.6), (-0.56, 0.19), (-0.13, -0.33), (0.31, -0.65), (0.66, -0.89), (0.85, -0.93), (0.98, -0.85), (0.9, -0.75), (0.77, -0.72),
           (0.6, -0.58), (0.4, -0.35), (0.2, -0.05), (0.0, 0.25), (-0.25, 0.5), (-0.5, 0.68), (-0.75, 0.85), (-0.85, 0.92), (-0.78, 0.8), (-0.55, 0.72),
           (-0.35, 0.6), (-0.15, 0.42), (0.05, 0.2), (0.25, -0.08), (0.45, -0.38), (0.62, -0.6), (0.78, -0.75), (0.92, -0.82), (0.98, -0.9), (0.88, -0.92), (0.72, -0.8),
           (0.55, -0.7), (0.35, -0.52), (0.1, -0.25), (-0.1, 0.02), (-0.3, 0.3), (-0.5, 0.52), (-0.7, 0.72), (-0.85, 0.82), (-0.72, 0.78),
           (-0.5, 0.7), (-0.3, 0.55), (-0.1, 0.35), (0.1, 0.1), (0.3, -0.2), (0.5, -0.45), (0.65, -0.62), (0.8, -0.72), (0.72, -0.62), (0.55, -0.55), (0.35, -0.38), (0.15, -0.12), (-0.08, 0.18), (-0.3, 0.42), (-0.55, 0.62), (-0.8, 0.85),
           (-0.6, 0.82), (-0.3, 0.7), (-0.12, 0.58), (0.1, 0.38), (0.33, 0.15), (0.53, -0.21), (0.7, -0.45), (0.85, -0.62), (0.98, -0.78), (0.95, -0.9), (0.8, -0.85), (0.65, -0.78), (0.45, -0.65), (0.2, -0.4), (-0.05, -0.1), (-0.3, 0.25), (-0.55, 0.5), (-0.75, 0.68), (-0.88, 0.88),
           (-0.7, 0.75), (-0.5, 0.65), (-0.32, 0.5), (-0.12, 0.3), (0.08, 0.05), (0.28, -0.25), (0.45, -0.5), (0.6, -0.62), (0.75, -0.68), (0.7, -0.58), (0.5, -0.48), (0.3, -0.3), (0.1, -0.05), (-0.1, 0.22), (-0.3, 0.45), (-0.5, 0.6), (-0.65, 0.68),
           (-0.45, 0.62), (-0.25, 0.45), (0.0, 0.2), (0.2, -0.1), (0.4, -0.4), (0.55, -0.58), (0.7, -0.7), (0.82, -0.8), (0.75, -0.75), (0.55, -0.62), (0.38, -0.5), (0.18, -0.28), (-0.02, 0.0), (-0.22, 0.3), (-0.42, 0.55), (-0.6, 0.72)]

SP_BE5 = [(-0.05, 0.55), (0.0, 0.35), (-0.1, 0.1), (-0.25, -0.05), (-0.3, 0.3), (-0.2, 0.55), (-0.05, 0.52), (-0.05, 0.3), (-0.2, -0.2), (-0.35, -0.45), (-0.55, -0.55), (-0.62, -0.6),
          (-0.5, -0.45), (-0.3, -0.35), (-0.1, -0.2), (0.05, -0.1), (0.1, -0.15), (-0.05, -0.25), (-0.2, -0.25), (-0.45, -0.3), (-0.55, -0.1), (-0.4, 0.25), (-0.2, 0.5), (-0.05, 0.63),
          (-0.1, 0.4), (-0.15, 0.0), (-0.2, -0.2), (-0.1, -0.45), (0.05, -0.45), (0.2, -0.3), (0.15, -0.2), (-0.05, -0.15), (-0.25, -0.3), (-0.45, -0.45), (-0.3, -0.2), (0.0, 0.1),
          (0.2, 0.35), (0.3, 0.48), (0.1, 0.2), (-0.15, -0.05), (-0.35, -0.3), (-0.3, -0.5), (-0.1, -0.55), (0.15, -0.4), (0.35, -0.2), (0.45, 0.1), (0.5, 0.35), (0.55, 0.42),
          (0.45, 0.4), (0.25, 0.25), (0.05, 0.12), (-0.05, 0.2), (0.2, 0.38), (0.45, 0.6), (0.7, 0.8), (0.9, 0.83), (1.0, 0.8), (0.85, 0.6), (0.6, 0.35), (0.4, 0.05), (0.2, -0.3),
          (0.0, -0.6), (-0.2, -0.85), (-0.33, -1.0), (-0.42, -0.85), (-0.4, -0.6), (-0.2, -0.4), (0.1, -0.15), (0.35, 0.15)]

CPG_BE5 = [(-0.17, 0.0), (0.05, 0.15), (0.2, 0.3), (0.3, 0.25), (0.35, 0.0), (0.3, -0.4), (0.15, -0.65), (0.0, -0.6), (-0.05, -0.3), (0.0, 0.3), (0.05, 0.75), (0.12, 0.78), (0.18, 0.5), (0.12, -0.1),
           (0.05, -0.55), (-0.05, -0.68), (-0.2, -0.7), (-0.4, -0.5), (-0.55, 0.0), (-0.6, 0.45), (-0.5, 0.8), (-0.38, 0.78), (-0.25, 0.4), (-0.15, -0.2), (-0.1, -0.65), (-0.15, -0.72),
           (-0.3, -0.6), (-0.45, -0.2), (-0.55, 0.2), (-0.5, 0.5), (-0.35, 0.92), (-0.3, 0.6), (-0.2, 0.1), (-0.1, -0.4), (0.0, -0.55), (0.15, -0.4), (0.3, 0.1), (0.35, 0.35), (0.25, 0.3),
           (0.0, 0.1), (-0.3, -0.1), (-0.6, -0.4), (-0.8, -0.6), (-0.85, -0.3), (-0.8, 0.3), (-0.7, 0.55), (-0.6, 0.55), (-0.45, 0.4), (-0.25, 0.3), (0.0, 0.28), (0.3, 0.28), (0.6, 0.28),
           (0.8, 0.2), (0.95, 0.0), (1.0, -0.34), (0.95, -0.6), (0.8, -0.9), (0.59, -1.0), (0.45, -0.9), (0.3, -0.75), (0.1, -0.62), (0.05, -0.35), (0.2, 0.0), (0.45, 0.4), (0.55, 0.55),
           (0.5, 0.3), (0.4, -0.2), (0.2, -0.55), (0.0, -0.4), (-0.12, -0.1), (-0.12, 0.5), (-0.05, 0.8), (0.05, 0.6), (0.05, 0.0), (-0.05, -0.6), (-0.25, -0.65), (-0.4, -0.3)]

WPG_BE5 = [(-0.06, 0.3), (-0.2, 0.35), (-0.35, 0.2), (-0.5, -0.05), (-0.65, -0.15), (-0.74, -0.13), (-0.65, 0.1), (-0.45, 0.4), (-0.3, 0.42), (-0.1, 0.25), (0.1, 0.0), (0.25, -0.2),
           (0.35, -0.45), (0.3, -0.55), (0.15, -0.5), (0.0, -0.3), (-0.1, 0.0), (-0.05, 0.3), (0.1, 0.45), (0.25, 0.42), (0.35, 0.2), (0.3, -0.1), (0.2, -0.4), (0.1, -0.55), (-0.1, -0.55),
           (-0.2, -0.3), (-0.35, 0.1), (-0.5, 0.72), (-0.4, 0.4), (-0.25, 0.0), (-0.06, -0.57), (0.0, -0.35), (0.05, 0.1), (0.15, 0.35), (0.3, 0.35), (0.4, 0.1), (0.42, -0.3), (0.35, -0.65),
           (0.25, -0.77), (0.15, -0.7), (0.1, -0.4), (0.2, -0.05), (0.35, 0.2), (0.49, 0.26), (0.65, 0.2), (0.74, -0.01), (0.7, -0.2), (0.55, -0.38), (0.3, -0.55), (0.05, -0.5), (-0.2, -0.3),
           (-0.45, 0.0), (-0.62, 0.25), (-0.78, 0.45), (-0.82, 0.58), (-0.7, 0.7), (-0.45, 0.78), (-0.2, 0.75), (0.05, 0.62), (0.3, 0.4), (0.55, 0.05), (0.76, -0.37), (0.9, -0.7), (1.0, -1.0)]

# Instants of peak response: (delta_norm, acc_norm), panels in row-major order
SOIL_MAX_PTS = [(-1.0, 0.15), (-1.0, 0.7), (-1.0, 0.42),
                (1.0, 0.52), (1.0, -0.58), (-1.0, 0.62),
                (1.0, 0.0), (1.0, -0.21), (1.0, -0.47),
                (-1.0, -0.45), (-1.0, 0.9), (-1.0, 1.0),
                (1.0, 0.78), (1.0, -0.34), (1.0, -1.0)]
PILE_MAX_PTS = [(-0.06, 1.0), (-0.84, 1.0), (-0.51, 1.0),
                (0.83, 1.0), (0.69, -1.0), (0.84, -1.0),
                (0.03, 1.0), (0.8, -1.0), (0.69, -1.0),
                (-0.9, -1.0), (0.91, -1.0), (-1.0, 1.0),
                (-0.33, -1.0), (0.59, -1.0), (1.0, -1.0)]

TRAJECTORIES = [SP_BE1, CPG_BE1, WPG_BE1,
                SP_BE2, CPG_BE2, WPG_BE2,
                SP_BE3, CPG_BE3, WPG_BE3,
                SP_BE4, CPG_BE4, WPG_BE4,
                SP_BE5, CPG_BE5, WPG_BE5]
EVENTS = ["BE1", "BE2", "BE3", "BE4", "BE5"]
COLUMN_TITLES = ["Single pile (SP)", "Pile group (CPG)", "Pile group (WPG)"]
TICK_VALS = [-1, -0.5, 0, 0.5, 1]
TICK_TEXT = ["-1", "-0.5", "0", "0.5", "1"]

# ---- layout geometry (pixels in a 1140 x 1102 page) ----
W, H = 1140, 1102
COL_PX = [(76, 409), (436, 770), (797, 1130)]
ROW_PX = [(35, 202), (224, 390), (413, 580), (600, 768), (790, 957)]
LABEL_BOX_X = [122.5, 721, 1083]   # centre of the event label box per column

INK = "#262626"
CURVE = "#353535"
SOIL_FILL = "#EDB120"
PILE_FILL = "#3CC47C"
BOLD = "Liberation Sans, Arial, sans-serif"

fig = go.Figure()
layout = dict(width=W, height=H, margin=dict(l=0, r=0, t=0, b=0),
              paper_bgcolor="white", plot_bgcolor="white", showlegend=True)
annotations = []
bold_ticks = ["<b>" + s + "</b>" for s in TICK_TEXT]

for r in range(5):
    for c in range(3):
        k = r * 3 + c + 1
        xs = "" if k == 1 else str(k)
        x0, x1 = COL_PX[c]
        t, b = ROW_PX[r]
        common = dict(range=[-1, 1], tickvals=TICK_VALS, ticktext=bold_ticks,
                      ticks="inside", ticklen=5, tickwidth=1.2, tickcolor=INK,
                      showline=True, linecolor=INK, linewidth=1.4, mirror="allticks",
                      showgrid=False, zeroline=False, fixedrange=True, layer="below traces")
        layout["xaxis" + xs] = dict(common, domain=[x0 / W, x1 / W], anchor="y" + xs,
                                    showticklabels=(r == 4), ticklabelstandoff=12,
                                    tickfont=dict(family=BOLD, size=15, color="#1a1a1a"))
        layout["yaxis" + xs] = dict(common, domain=[1 - b / H, 1 - t / H], anchor="x" + xs,
                                    showticklabels=(c == 0), ticklabelstandoff=6,
                                    tickfont=dict(family=BOLD, size=14, color="#1a1a1a"))

        pts = TRAJECTORIES[k - 1]
        fig.add_trace(go.Scatter(x=[p[0] for p in pts], y=[p[1] for p in pts], mode="lines",
                                 line=dict(color=CURVE, width=0.9, shape="spline", smoothing=1.0),
                                 xaxis="x" + xs, yaxis="y" + xs, showlegend=False, hoverinfo="skip"))
        sx, sy = SOIL_MAX_PTS[k - 1]
        fig.add_trace(go.Scatter(x=[sx], y=[sy], mode="markers", cliponaxis=False,
                                 marker=dict(symbol="circle", size=15, color=SOIL_FILL,
                                             line=dict(color="#111111", width=1)),
                                 name="Time instant of maximum soil surface deformation",
                                 legendgroup="soil", showlegend=(k == 1), legendrank=1,
                                 xaxis="x" + xs, yaxis="y" + xs))
        px_, py_ = PILE_MAX_PTS[k - 1]
        fig.add_trace(go.Scatter(x=[px_], y=[py_], mode="markers", cliponaxis=False,
                                 marker=dict(symbol="triangle-up", size=16, color=PILE_FILL,
                                             line=dict(color="#111111", width=1)),
                                 name="Time instant of maximum pile acceleration",
                                 legendgroup="pile", showlegend=(k == 1), legendrank=2,
                                 xaxis="x" + xs, yaxis="y" + xs))

        # event label box
        annotations.append(dict(xref="paper", yref="paper",
                                x=LABEL_BOX_X[c] / W, y=1 - (t + 27) / H,
                                text="<b>" + EVENTS[r] + "</b>", showarrow=False,
                                font=dict(family=BOLD, size=14, color="#111111"),
                                width=57, height=32, bordercolor=INK, borderwidth=1,
                                borderpad=1, bgcolor="rgba(0,0,0,0)",
                                xanchor="center", yanchor="middle"))

    # y axis title for the row
    t, b = ROW_PX[r]
    annotations.append(dict(xref="paper", yref="paper", x=24 / W, y=1 - (t + b) / 2 / H,
                            text="<b>acc<sub><span style='font-size:16px'>norm</span></sub></b>",
                            showarrow=False, textangle=-90,
                            font=dict(family=BOLD, size=19, color="#111111"),
                            xanchor="center", yanchor="middle"))

for c in range(3):
    x0, x1 = COL_PX[c]
    annotations.append(dict(xref="paper", yref="paper", x=(x0 + x1) / 2 / W, y=1 - 13 / H,
                            text="<b>" + COLUMN_TITLES[c] + "</b>", showarrow=False,
                            font=dict(family=BOLD, size=18, color="#111111"),
                            xanchor="center", yanchor="middle"))
    annotations.append(dict(xref="paper", yref="paper", x=(x0 + x1) / 2 / W, y=1 - 1010 / H,
                            text="<b><i>δ</i><sub><span style='font-size:16px'>norm</span></sub></b>",
                            showarrow=False,
                            font=dict(family=BOLD, size=19, color="#111111"),
                            xanchor="center", yanchor="middle"))

layout["annotations"] = annotations
layout["legend"] = dict(x=372 / W, y=1 - 1049 / H, xanchor="left", yanchor="top",
                        bgcolor="white", bordercolor=INK, borderwidth=1,
                        font=dict(family="DejaVu Sans, Verdana, sans-serif", size=15.5, color="#222222"),
                        tracegroupgap=2, itemsizing="trace")
fig.update_layout(**layout)

fig.write_html("out.html")
